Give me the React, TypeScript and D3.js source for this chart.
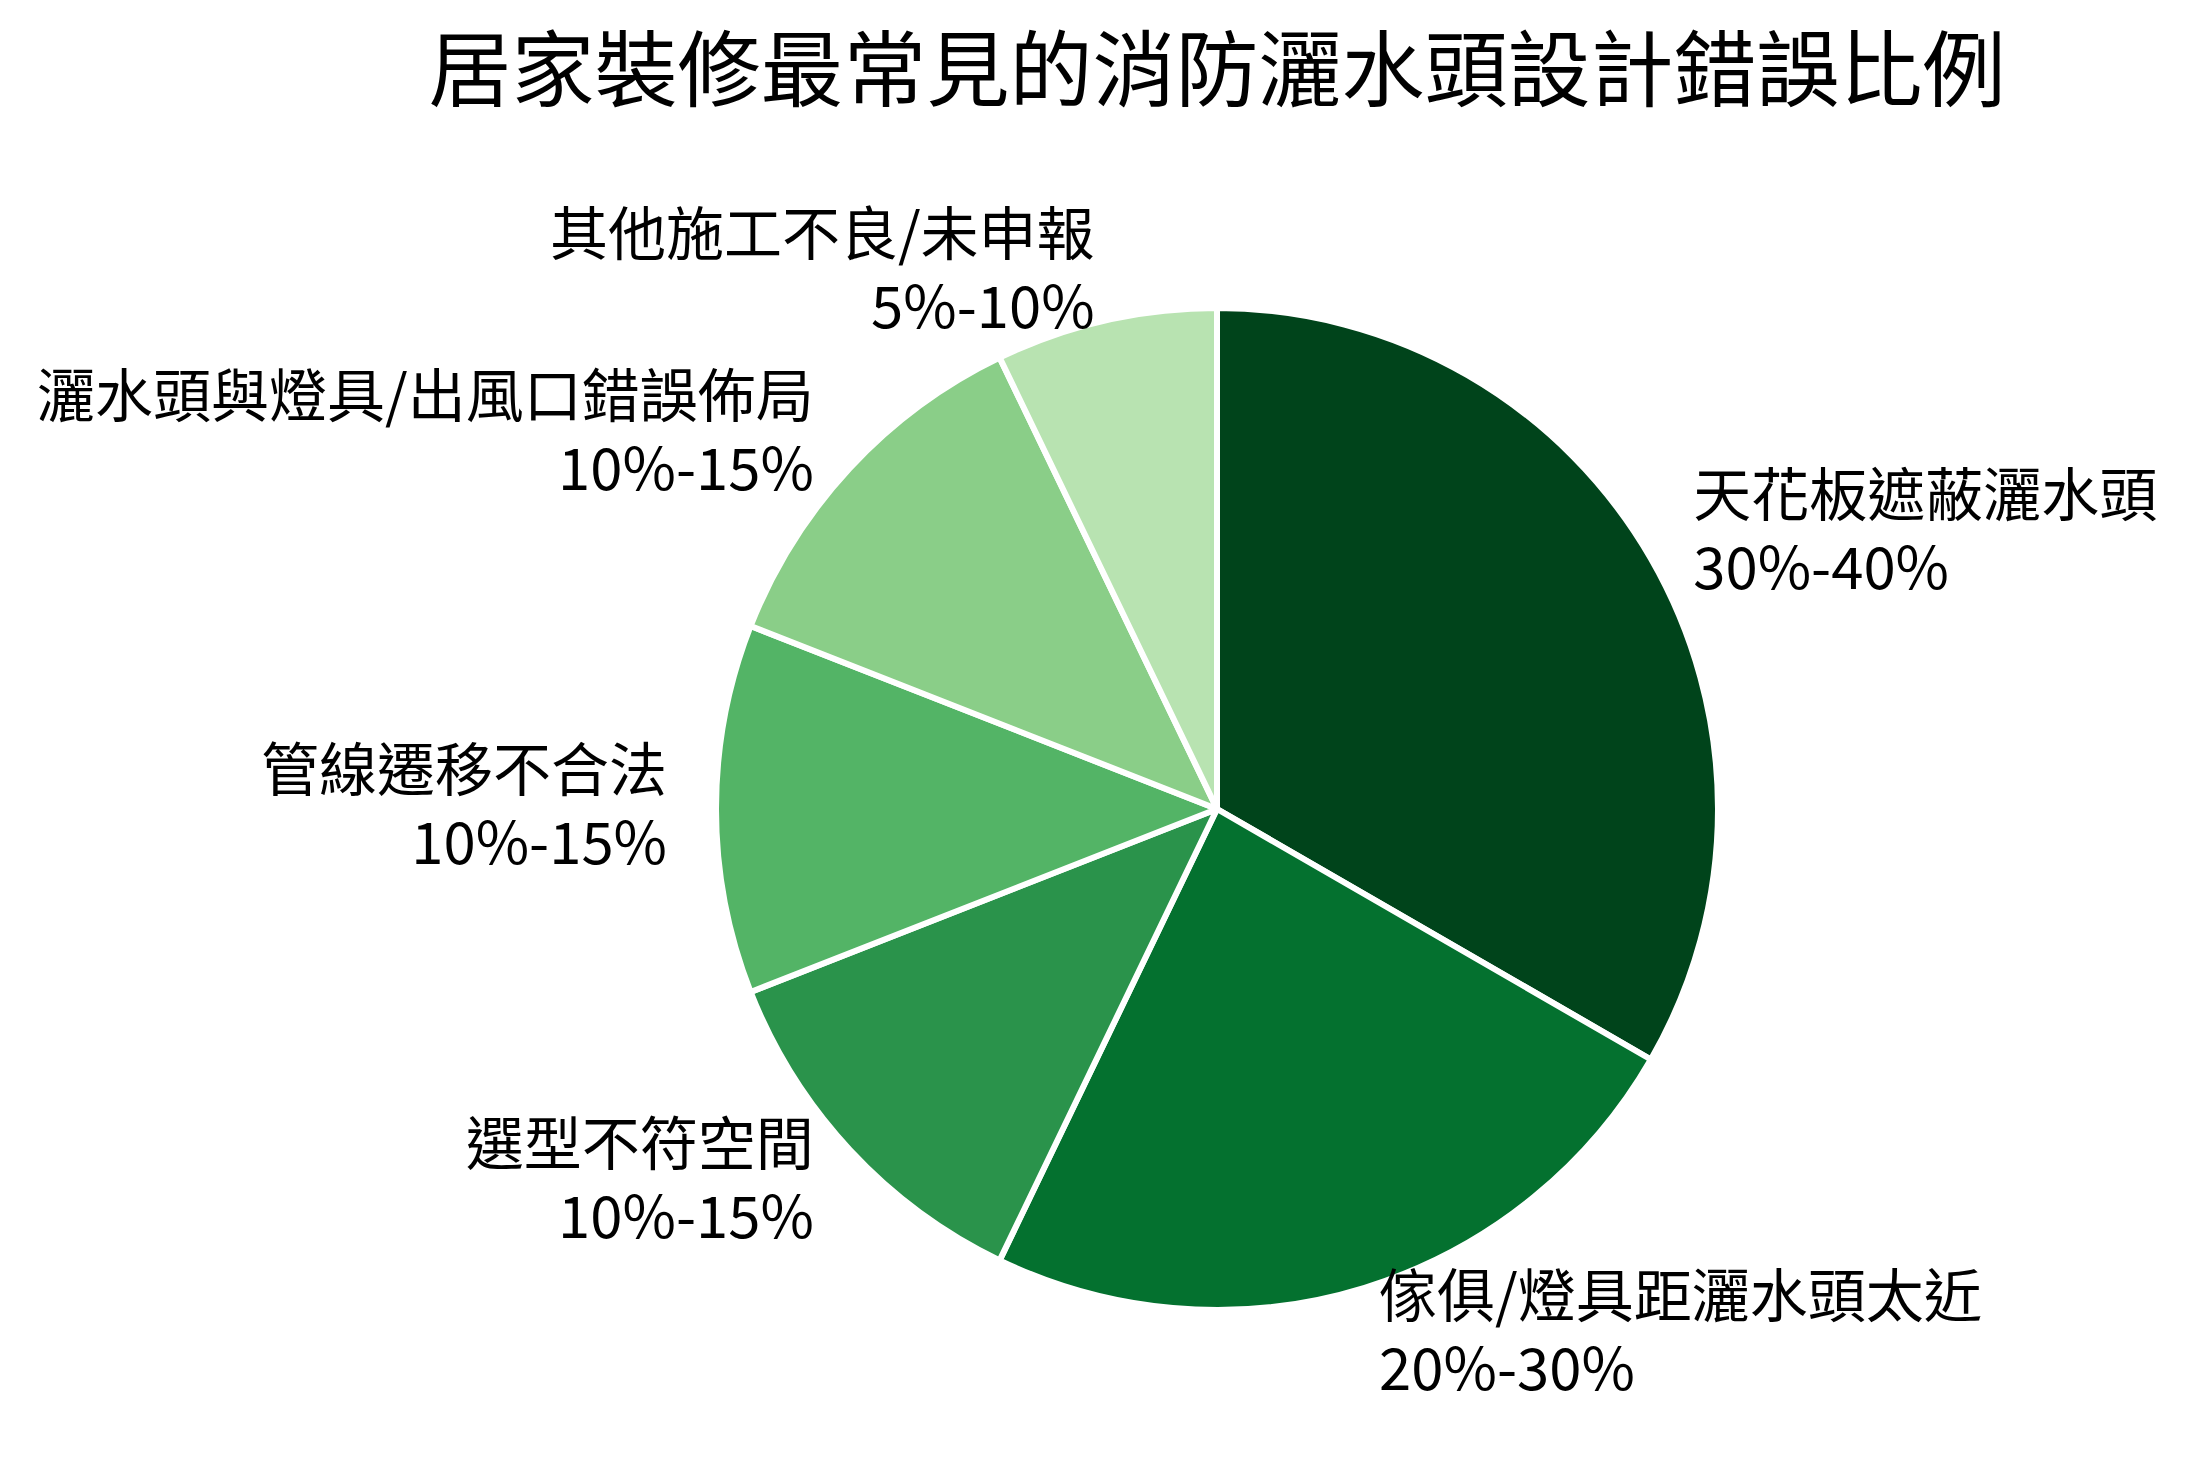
import React from "react";
import * as d3 from "d3";

const title = "居家裝修最常見的消防灑水頭設計錯誤比例";
const categories = [
  "天花板遮蔽灑水頭",
  "傢俱/燈具距灑水頭太近",
  "選型不符空間",
  "管線遷移不合法",
  "灑水頭與燈具/出風口錯誤佈局",
  "其他施工不良/未申報",
];
const rangeLabels = ["30%-40%", "20%-30%", "10%-15%", "10%-15%", "10%-15%", "5%-10%"];
const values = [35, 25, 12.5, 12.5, 12.5, 7.5];

const W = 2193;
const H = 1468;
const cx = 1217;
const cy = 809;
const R = 501;
const labelR = 550;
const FONT = "'Noto Sans CJK TC', 'Noto Sans CJK SC', 'Noto Sans', sans-serif";

export default function App() {
  const pie = d3
    .pie<number>()
    .sort(null)
    .startAngle(0)
    .endAngle(2 * Math.PI)
    .value((d) => d);
  const arcs = pie(values);
  const arcGen = d3.arc<d3.PieArcDatum<number>>().innerRadius(0).outerRadius(R);

  // matplotlib-like Greens colormap sampled at linspace(1, 0.3, n)
  const greens = d3
    .scaleLinear<string>()
    .domain(d3.range(9).map((i) => i / 8))
    .range(d3.schemeGreens[9] as string[])
    .interpolate(d3.interpolateRgb);
  const n = values.length;
  const colorAt = (i: number) => greens(1 - (0.7 * i) / (n - 1));

  return (
    <svg
      width={W}
      height={H}
      viewBox={`0 0 ${W} ${H}`}
      style={{ position: "absolute", left: 0, top: 0, background: "#fff" }}
    >
      <rect x={0} y={0} width={W} height={H} fill="#fff" />
      <text
        x={cx}
        y={100}
        textAnchor="middle"
        fontFamily={FONT}
        fontSize={83}
        fill="#000"
      >
        {title}
      </text>
      <g transform={`translate(${cx},${cy})`}>
        {arcs.map((a, i) => (
          <path
            key={i}
            d={arcGen(a) as string}
            fill={colorAt(i)}
            stroke="#fff"
            strokeWidth={6}
            strokeLinejoin="round"
          />
        ))}
        {arcs.map((a, i) => {
          const mid = (a.startAngle + a.endAngle) / 2;
          const x = labelR * Math.sin(mid);
          const y = -labelR * Math.cos(mid);
          const anchor = x >= 0 ? "start" : "end";
          return (
            <g key={"l" + i}>
              <text
                x={x}
                y={y - 18}
                textAnchor={anchor}
                fontFamily={FONT}
                fontSize={58}
                fill="#000"
              >
                {categories[i]}
              </text>
              <text
                x={x}
                y={y + 55}
                textAnchor={anchor}
                fontFamily={FONT}
                fontSize={58}
                fill="#000"
              >
                {rangeLabels[i]}
              </text>
            </g>
          );
        })}
      </g>
    </svg>
  );
}
